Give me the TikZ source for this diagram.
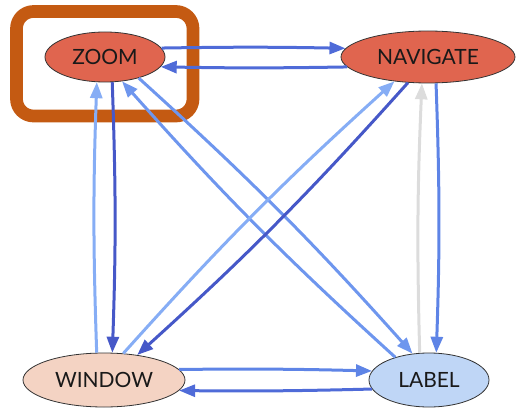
\documentclass[tikz,border=0pt]{standalone}
\usepackage{fontspec}
\newfontfamily\labfont{Lato}
\usetikzlibrary{shapes.geometric,arrows.meta}
\definecolor{nodered}{HTML}{E0654F}
\definecolor{nodepeach}{HTML}{F4D3C3}
\definecolor{nodeblue}{HTML}{BFD6F6}
\definecolor{cA}{HTML}{4658C8}
\definecolor{cB}{HTML}{4F6BD8}
\definecolor{cC}{HTML}{5E84E6}
\definecolor{cD}{HTML}{6E96EE}
\definecolor{cE}{HTML}{86ADF5}
\definecolor{cG}{HTML}{DCDCDC}
\definecolor{hilite}{HTML}{C45A12}
\tikzset{
  state/.style={ellipse, draw=black!80, line width=0.8pt, inner sep=0pt,
    font=\labfont\fontsize{21}{25}\selectfont, text=black!90},
  edge/.style={line width=3pt, -{Triangle[length=16pt,width=12pt]}},
}
\begin{document}
\begin{tikzpicture}[x=1pt,y=-1pt]
\useasboundingbox (0,0) rectangle (516,409);
\draw[hilite, line width=12.7pt, rounded corners=17pt] (16.5,11.5) rectangle (193,116);
\node[state, fill=nodered, minimum width=120pt, minimum height=50pt] (zoom) at (105,57) {ZOOM};
\node[state, fill=nodered, minimum width=174pt, minimum height=52pt] (nav) at (428,57) {NAVIGATE};
\node[state, fill=nodepeach, minimum width=162pt, minimum height=54pt] (window) at (104,380) {WINDOW};
\node[state, fill=nodeblue, minimum width=120pt, minimum height=54pt] (label) at (429,380) {LABEL};
\draw[edge, cB] (zoom.9) to[bend left=1] (nav.174);
\draw[edge, cB] (nav.187) to[bend left=1] (zoom.-10);
\draw[edge, cE] (window.105) to[bend left=2] (zoom.252);
\draw[edge, cA] (zoom.-74) to[bend left=2] (window.73);
\draw[edge, cD] (zoom.-32) to[bend left=3] (label.122);
\draw[edge, cD] (label.146) to[bend left=3] (zoom.-55);
\draw[edge, cE] (window.54) to[bend left=3] (nav.216);
\draw[edge, cA] (nav.232) to[bend left=3] (window.37);
\draw[edge, cG] (label.109) to[bend left=2] (nav.257);
\draw[edge, cC] (nav.287) to[bend left=2] (label.75);
\draw[edge, cC] (window.8) to[bend left=1] (label.171);
\draw[edge, cB] (label.189) to[bend left=1] (window.-8);
\end{tikzpicture}
\end{document}
